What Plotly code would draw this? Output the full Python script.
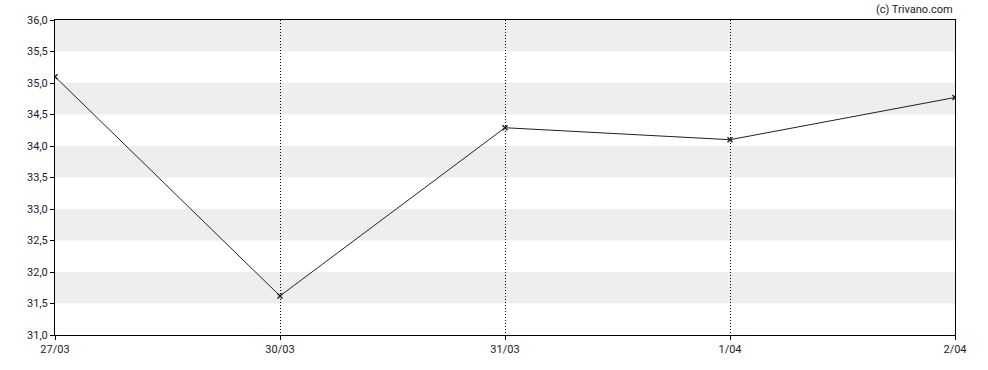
import plotly.graph_objects as go

dates = ["27/03", "30/03", "31/03", "1/04", "2/04"]
prices = [35.10, 31.62, 34.29, 34.10, 34.77]
y_ticks = [31.0, 31.5, 32.0, 32.5, 33.0, 33.5, 34.0, 34.5, 35.0, 35.5, 36.0]
y_labels = [f"{v:.1f}".replace(".", ",") for v in y_ticks]

x_idx = list(range(len(dates)))

fig = go.Figure()
fig.add_trace(go.Scatter(
    x=x_idx, y=prices, mode="lines+markers",
    line=dict(color="#222222", width=1),
    marker=dict(symbol="x-thin", size=5, color="#222222",
                line=dict(width=1.5, color="#222222")),
    hoverinfo="skip",
))

shapes = []
for i in range(len(y_ticks) - 1):
    lo, hi = y_ticks[i], y_ticks[i + 1]
    if i % 2 == 1:
        shapes.append(dict(type="rect", xref="paper", yref="y", x0=0, x1=1,
                           y0=lo, y1=hi, fillcolor="#eeeeee", line_width=0,
                           layer="below"))

fig.update_layout(
    width=988, height=370,
    margin=dict(l=55, r=33, t=20, b=35),
    paper_bgcolor="white", plot_bgcolor="white",
    font=dict(family="Roboto", size=11, color="#222222"),
    showlegend=False,
    shapes=shapes,
    xaxis=dict(
        range=[0, len(dates) - 1], tickvals=x_idx, ticktext=dates,
        showgrid=True, gridcolor="#000000", griddash="1px,2px", gridwidth=1,
        showline=True, linecolor="#000000", linewidth=1, mirror=True,
        ticks="outside", ticklen=4, tickcolor="#000000", zeroline=False,
        fixedrange=True,
    ),
    yaxis=dict(
        range=[31, 36], tickvals=y_ticks, ticktext=y_labels,
        showgrid=False,
        showline=True, linecolor="#000000", linewidth=1, mirror=True,
        ticks="outside", ticklen=4, tickcolor="#000000", zeroline=False,
        fixedrange=True,
    ),
    annotations=[dict(text="(c) Trivano.com", xref="paper", yref="paper",
                      x=1, y=1, xanchor="right", yanchor="bottom", yshift=2,
                      showarrow=False, font=dict(family="Roboto", size=11, color="#222222"))],
)

fig.write_html("out.html")
